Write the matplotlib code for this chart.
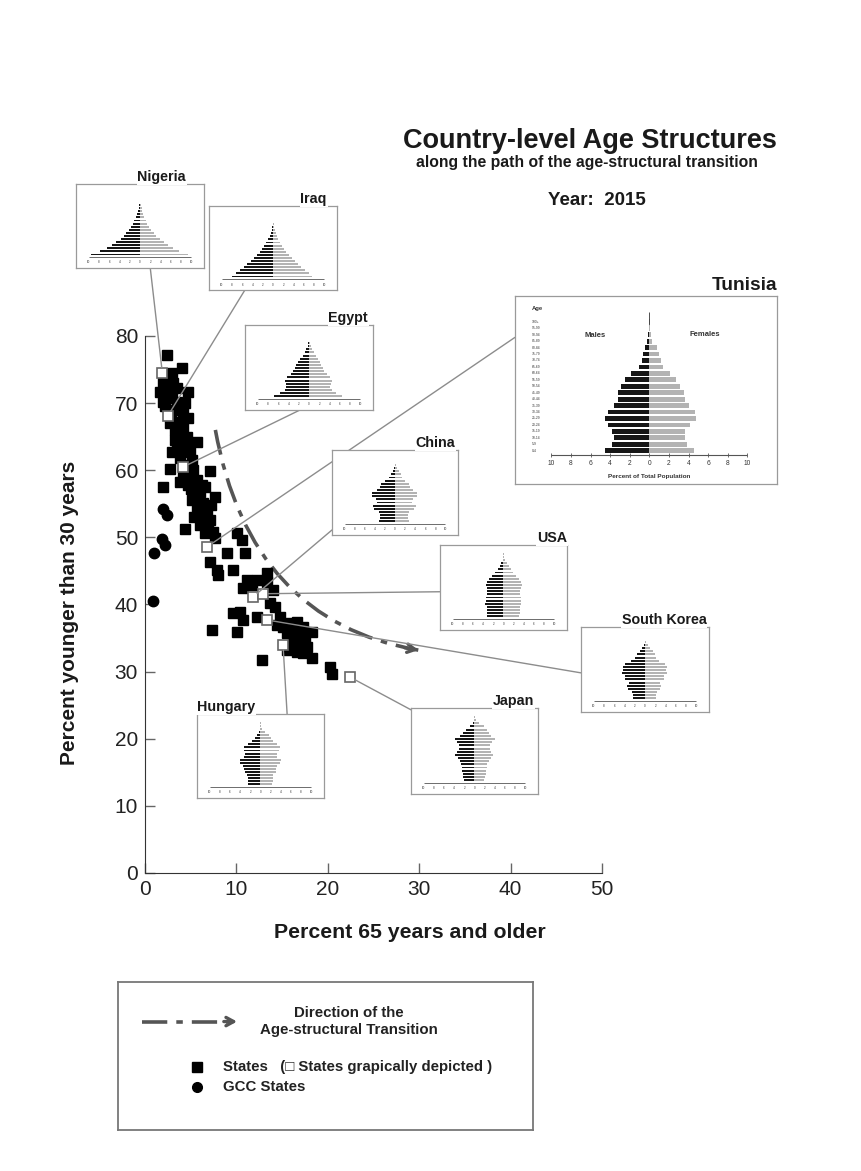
import numpy as np
import matplotlib.pyplot as plt
from matplotlib.patches import ConnectionPatch, PathPatch
from matplotlib.path import Path

plt.rcParams['font.family'] = ['Liberation Sans', 'DejaVu Sans']

# ---- scatter data: % aged 65+ (x) vs % younger than 30 (y), 2015 ----
states = [(2.4, 77.2), (4.0, 75.3), (3.0, 74.5), (2.0, 73.0), (3.1, 73.0), (1.6, 71.6),
          (2.7, 71.6), (4.7, 71.7), (2.0, 70.2), (3.5, 70.2), (4.4, 70.0), (3.1, 69.0),
          (4.2, 68.7), (4.7, 67.8), (3.5, 67.2), (2.7, 67.0), (4.2, 66.4), (3.3, 66.0),
          (3.8, 65.3), (4.6, 65.0), (5.7, 64.2), (3.0, 62.7), (4.2, 62.7), (4.9, 63.0),
          (3.8, 61.8), (5.1, 61.5), (2.7, 60.2), (7.1, 59.9), (4.2, 59.6), (4.9, 59.0),
          (5.7, 58.5), (6.2, 57.8), (3.8, 58.2), (4.7, 57.8), (2.0, 57.5), (6.6, 57.5),
          (5.3, 56.6), (7.7, 56.0), (5.8, 56.0), (5.1, 55.6), (6.3, 55.1), (5.7, 54.1),
          (6.8, 53.8), (6.2, 52.9), (7.1, 52.6), (6.0, 51.8), (6.9, 51.5), (4.4, 51.2),
          (7.4, 50.8), (6.6, 50.7), (7.7, 49.9), (7.1, 46.3), (7.9, 45.1), (8.0, 44.4),
          (9.0, 47.7), (9.6, 45.1), (10.1, 50.7), (10.6, 49.6), (10.9, 47.7), (11.2, 43.6),
          (11.7, 42.9), (12.3, 43.6), (13.3, 44.7), (10.7, 42.5), (13.3, 43.4), (14.0, 42.2),
          (13.7, 40.2), (14.2, 39.6), (9.6, 38.7), (10.4, 38.9), (10.7, 37.7), (12.3, 38.1),
          (7.3, 36.2), (10.1, 35.9), (14.8, 38.1), (14.4, 36.9), (15.1, 36.6), (15.9, 37.2),
          (16.6, 37.4), (17.3, 36.6), (18.3, 35.9), (15.5, 35.8), (16.6, 35.8), (17.5, 35.2),
          (16.2, 34.4), (17.0, 34.3), (17.7, 33.7), (15.5, 33.2), (16.6, 32.9), (17.3, 32.8),
          (18.3, 32.0), (12.8, 31.7), (20.2, 30.7), (20.5, 29.6), (3.5, 72.2), (2.5, 72.5),
          (3.8, 69.5), (2.9, 68.3), (4.0, 64.0), (4.5, 63.8), (3.5, 63.5), (5.3, 60.0),
          (5.5, 58.0), (6.5, 54.5), (5.4, 53.0), (3.0, 70.8), (2.2, 69.5), (6.0, 56.7),
          (7.2, 54.8), (4.5, 60.8), (5.0, 57.2), (3.3, 64.5)]
gcc_states = [(2.0, 54.2), (2.4, 53.3), (1.9, 49.8), (2.2, 48.8), (1.0, 47.7), (0.9, 40.5)]

shown_names = ['Nigeria', 'Iraq', 'Egypt', 'Tunisia', 'China', 'USA', 'South Korea', 'Hungary', 'Japan']
shown_x = [1.9, 2.5, 4.2, 6.8, 11.8, 12.9, 13.3, 15.1, 22.4]
shown_y = [74.5, 68.1, 60.5, 48.6, 41.1, 41.6, 37.7, 34.0, 29.2]

# direction of the age-structural transition (start, control, end)
trend_x = [7.7, 11.5, 29.9]
trend_y = [66.0, 37.5, 33.2]

# ---- population pyramids: % of total population, ages 0-4 ... 100+ ----
age_groups = ['0-4', '5-9', '10-14', '15-19', '20-24', '25-29', '30-34', '35-39', '40-44',
              '45-49', '50-54', '55-59', '60-64', '65-69', '70-74', '75-79', '80-84',
              '85-89', '90-94', '95-99', '100+']
nigeria_m = [9.5, 7.8, 6.5, 5.5, 4.6, 3.8, 3.2, 2.7, 2.2, 1.8, 1.4, 1.1, 0.8, 0.6, 0.4, 0.25, 0.15, 0.08, 0.04, 0.02, 0.01]
nigeria_f = [9.4, 7.7, 6.4, 5.4, 4.6, 3.9, 3.2, 2.7, 2.2, 1.8, 1.4, 1.1, 0.85, 0.65, 0.45, 0.3, 0.17, 0.09, 0.04, 0.02, 0.01]
iraq_m = [8.0, 7.2, 6.4, 5.6, 5.0, 4.4, 3.7, 3.1, 2.6, 2.1, 1.7, 1.3, 0.95, 0.65, 0.45, 0.28, 0.16, 0.08, 0.04, 0.02, 0.01]
iraq_f = [7.7, 7.0, 6.2, 5.4, 4.9, 4.3, 3.7, 3.1, 2.6, 2.2, 1.8, 1.4, 1.05, 0.75, 0.55, 0.35, 0.2, 0.1, 0.05, 0.02, 0.01]
egypt_m = [6.9, 5.6, 4.7, 4.4, 4.5, 4.6, 4.3, 3.6, 3.1, 2.8, 2.5, 2.1, 1.7, 1.2, 0.8, 0.5, 0.28, 0.13, 0.05, 0.02, 0.01]
egypt_f = [6.5, 5.3, 4.5, 4.2, 4.3, 4.5, 4.2, 3.5, 3.0, 2.7, 2.4, 2.1, 1.7, 1.3, 0.9, 0.6, 0.33, 0.16, 0.06, 0.02, 0.01]
tunisia_m = [4.5, 3.8, 3.6, 3.8, 4.2, 4.5, 4.2, 3.6, 3.2, 3.2, 2.9, 2.5, 1.9, 1.1, 0.8, 0.6, 0.4, 0.2, 0.1, 0.05, 0.02]
tunisia_f = [4.5, 3.8, 3.6, 3.6, 4.1, 4.8, 4.6, 4.0, 3.6, 3.5, 3.1, 2.7, 2.1, 1.4, 1.2, 1.0, 0.75, 0.3, 0.15, 0.05, 0.02]
china_m = [3.1, 3.0, 2.9, 3.2, 4.1, 4.3, 3.6, 3.7, 4.6, 4.5, 3.6, 3.0, 2.8, 1.9, 1.3, 0.9, 0.5, 0.2, 0.05, 0.01, 0.01]
china_f = [2.7, 2.6, 2.5, 2.8, 3.8, 4.1, 3.4, 3.6, 4.4, 4.4, 3.5, 3.0, 2.8, 2.0, 1.4, 1.1, 0.7, 0.35, 0.1, 0.02, 0.01]
usa_m = [3.2, 3.3, 3.3, 3.3, 3.6, 3.5, 3.4, 3.2, 3.2, 3.3, 3.5, 3.3, 2.8, 2.3, 1.6, 1.1, 0.7, 0.4, 0.15, 0.04, 0.01]
usa_f = [3.1, 3.2, 3.2, 3.2, 3.4, 3.4, 3.4, 3.2, 3.2, 3.4, 3.6, 3.5, 3.0, 2.5, 1.9, 1.4, 1.0, 0.7, 0.35, 0.1, 0.02]
korea_m = [2.3, 2.3, 2.5, 3.3, 3.5, 3.2, 3.9, 3.9, 4.4, 4.3, 4.3, 3.9, 2.7, 2.0, 1.5, 1.0, 0.5, 0.2, 0.05, 0.01, 0.01]
korea_f = [2.2, 2.2, 2.3, 3.0, 3.1, 2.9, 3.7, 3.8, 4.3, 4.2, 4.3, 3.9, 2.8, 2.2, 1.9, 1.6, 1.0, 0.5, 0.17, 0.04, 0.01]
japan_m = [2.0, 2.2, 2.3, 2.4, 2.5, 2.6, 2.9, 3.3, 3.8, 3.4, 3.1, 3.0, 3.4, 3.8, 2.8, 2.3, 1.6, 0.8, 0.25, 0.05, 0.01]
japan_f = [1.9, 2.1, 2.2, 2.3, 2.4, 2.5, 2.8, 3.2, 3.7, 3.3, 3.1, 3.1, 3.5, 4.1, 3.2, 2.9, 2.4, 1.8, 0.9, 0.3, 0.05]
hungary_m = [2.4, 2.5, 2.5, 2.6, 3.1, 3.2, 3.4, 4.0, 4.1, 3.2, 3.0, 3.2, 3.2, 2.5, 1.6, 1.1, 0.7, 0.3, 0.08, 0.02, 0.01]
hungary_f = [2.3, 2.4, 2.4, 2.5, 3.0, 3.1, 3.3, 3.9, 4.0, 3.2, 3.3, 3.7, 3.9, 3.3, 2.5, 2.1, 1.6, 0.9, 0.35, 0.08, 0.01]

pyramids = {
    'Nigeria': (nigeria_m, nigeria_f), 'Iraq': (iraq_m, iraq_f), 'Egypt': (egypt_m, egypt_f),
    'China': (china_m, china_f), 'USA': (usa_m, usa_f), 'South Korea': (korea_m, korea_f),
    'Japan': (japan_m, japan_f), 'Hungary': (hungary_m, hungary_f),
}

# inset layout: [left, bottom, width, height] (figure fraction), line anchor (axes fraction), title x / align
inset_pos = {
    'Nigeria': [0.0882, 0.7711, 0.1485, 0.0717],
    'Iraq': [0.2425, 0.7523, 0.1485, 0.0717],
    'Egypt': [0.2842, 0.6499, 0.1485, 0.0726],
    'China': [0.3852, 0.5431, 0.1462, 0.0726],
    'USA': [0.5104, 0.4620, 0.1473, 0.0726],
    'South Korea': [0.6740, 0.3920, 0.1485, 0.0726],
    'Japan': [0.4768, 0.3219, 0.1473, 0.0734],
    'Hungary': [0.2285, 0.3185, 0.1473, 0.0717],
}
anchors = {'Nigeria': (0.58, 0.0), 'Iraq': (0.28, 0.0), 'Egypt': (0.43, 0.0), 'China': (0.0, 0.06),
           'USA': (0.0, 0.45), 'South Korea': (0.0, 0.46), 'Japan': (0.0, 0.98),
           'Hungary': (0.71, 1.0), 'Tunisia': (0.0, 0.78)}
title_pos = {'Nigeria': (0.86, 'right'), 'Iraq': (0.92, 'right'), 'Egypt': (0.96, 'right'),
             'China': (0.98, 'right'), 'USA': (1.0, 'right'), 'South Korea': (0.98, 'right'),
             'Japan': (0.97, 'right'), 'Hungary': (0.0, 'left')}

MALE = '#161616'
FEMALE = '#b3b3b3'
BOX = '#9a9a9a'
LINK = '#8c8c8c'

fig = plt.figure(figsize=(8.62, 11.71), dpi=100)

# ---- main scatter ----
ax = fig.add_axes([0.1682, 0.2545, 0.5302, 0.4586])
ax.set_xlim(0, 50)
ax.set_ylim(0, 80)
ax.set_xticks(range(0, 51, 10))
ax.set_yticks(range(0, 81, 10))
for s in ['top', 'right']:
    ax.spines[s].set_visible(False)
for s in ['left', 'bottom']:
    ax.spines[s].set_color('#333333')
ax.tick_params(direction='in', length=7, width=1, color='#666666', labelsize=15, pad=5,
               labelcolor='#222222')
ax.patch.set_alpha(0)

st = np.array(states)
gc = np.array(gcc_states)
ax.plot(st[:, 0], st[:, 1], 's', color='black', ms=7, zorder=3)
ax.plot(gc[:, 0], gc[:, 1], 'o', color='black', ms=7.5, zorder=3)
ax.plot(shown_x, shown_y, 's', mfc='white', mec='#666666', mew=1.2, ms=7, zorder=4)

verts = list(zip(trend_x, trend_y))
trend = Path(verts, [Path.MOVETO, Path.CURVE3, Path.CURVE3])
ax.add_patch(PathPatch(trend, fill=False, ec='#555555', lw=2.6,
                       ls=(0, (7, 2.5, 1.8, 2.5)), zorder=2))
end = np.array(verts[2])
back = end - 0.08 * (end - np.array(verts[1]))
ax.annotate('', xy=end, xytext=back,
            arrowprops=dict(arrowstyle='->,head_length=0.55,head_width=0.3', color='#555555',
                            lw=2.4, shrinkA=0, shrinkB=0), zorder=2)

fig.text(0.081, 0.477, 'Percent younger than 30 years', rotation=90, ha='center', va='center',
         fontsize=15, fontweight='bold', color='#1a1a1a')
fig.text(0.476, 0.204, 'Percent 65 years and older', ha='center', va='center',
         fontsize=15.3, fontweight='bold', color='#1a1a1a')

fig.text(0.684, 0.880, 'Country-level Age Structures', ha='center', va='center',
         fontsize=19.5, fontweight='bold', color='#1a1a1a')
fig.text(0.681, 0.861, 'along the path of the age-structural transition', ha='center',
         va='center', fontsize=11.3, fontweight='bold', color='#1a1a1a')
fig.text(0.693, 0.829, 'Year:  2015', ha='center', va='center', fontsize=13.5,
         fontweight='bold', color='#1a1a1a')

idx = {n: i for i, n in enumerate(shown_names)}
y_age = np.arange(len(age_groups))


def frame(ia):
    ia.set_xticks([])
    ia.set_yticks([])
    for s in ia.spines.values():
        s.set_color(BOX)
        s.set_linewidth(0.9)


def link(ia, name):
    i = idx[name]
    con = ConnectionPatch(xyA=anchors[name], coordsA=ia.transAxes,
                          xyB=(shown_x[i], shown_y[i]), coordsB=ax.transData,
                          color=LINK, lw=1.0, shrinkA=0, shrinkB=4)
    con.set_zorder(1)
    fig.add_artist(con)


# ---- small pyramids ----
for name, (male, female) in pyramids.items():
    ia = fig.add_axes(inset_pos[name], zorder=5)
    ia.barh(y_age, -np.array(male), height=0.62, color=MALE)
    ia.barh(y_age, female, height=0.62, color=FEMALE)
    ia.set_xlim(-12.5, 12.5)
    ia.set_ylim(-4.4, 22.8)
    frame(ia)
    ia.hlines(-0.8, -10, 10, color='#555555', lw=0.6)
    for v in range(-10, 11, 2):
        ia.text(v, -2.6, str(abs(v)), fontsize=2.2, ha='center', va='center', color='#333333')
    tx, ha = title_pos[name]
    ia.text(tx, 1.0, name, transform=ia.transAxes, ha=ha, va='bottom', fontsize=10.3,
            fontweight='bold', color='#1a1a1a',
            bbox=dict(fc='white', ec='none', pad=0.5))
    link(ia, name)

# ---- Tunisia (large pyramid) ----
tn = fig.add_axes([0.5974, 0.5867, 0.3039, 0.1605], zorder=5)
tn.barh(y_age, -np.array(tunisia_m), height=0.74, color=MALE)
tn.barh(y_age, tunisia_f, height=0.74, color=FEMALE)
tn.set_xlim(-13.7, 13.0)
tn.set_ylim(-5.16, 24.0)
frame(tn)
tn.vlines(0, 19.5, 21.5, color='#333333', lw=0.6)
tn.hlines(-0.65, -10, 10, color='#555555', lw=0.8)
tn.plot(range(-10, 11, 2), [-0.65] * 11, '|', color='#555555', ms=2.5, mew=0.6)
for v in range(-10, 11, 2):
    tn.text(v, -1.95, str(abs(v)), fontsize=4.8, ha='center', va='center', color='#333333')
tn.text(0, -4.0, 'Percent of Total Population', fontsize=4.6, ha='center', va='center',
        fontweight='bold', color='#333333')
for i, g in enumerate(age_groups):
    tn.text(-12.0, i, g, fontsize=2.4, ha='left', va='center', color='#333333')
tn.text(-12.0, 22.0, 'Age', fontsize=4.2, ha='left', va='center', fontweight='bold',
        color='#333333')
tn.text(-5.5, 17.8, 'Males', fontsize=5.5, ha='center', va='center', fontweight='bold',
        color='#333333')
tn.text(5.7, 18.1, 'Females', fontsize=5.5, ha='center', va='center', fontweight='bold',
        color='#333333')
tn.text(1.0, 1.01, 'Tunisia', transform=tn.transAxes, ha='right', va='bottom', fontsize=13.8,
        fontweight='bold', color='#1a1a1a')
link(tn, 'Tunisia')

# ---- legend box ----
lg = fig.add_axes([0.137, 0.035, 0.481, 0.126])
lg.set_xlim(0, 1)
lg.set_ylim(0, 1)
lg.set_xticks([])
lg.set_yticks([])
for s in lg.spines.values():
    s.set_color('#777777')
    s.set_linewidth(1.3)
lg.plot([0.058, 0.262], [0.735, 0.735], color='#555555', lw=2.6, ls=(0, (7, 2.5, 1.8, 2.5)))
lg.annotate('', xy=(0.287, 0.735), xytext=(0.255, 0.735),
            arrowprops=dict(arrowstyle='->,head_length=0.55,head_width=0.3', color='#555555',
                            lw=2.4, shrinkA=0, shrinkB=0))
lg.text(0.557, 0.735, 'Direction of the\nAge-structural Transition', ha='center', va='center',
        fontsize=10.8, fontweight='bold', color='#222222', linespacing=1.2)
lg.plot([0.19], [0.429], 's', color='black', ms=6.5)
lg.plot([0.19], [0.293], 'o', color='black', ms=7)
lg.text(0.253, 0.429, 'States   (\u25a1 States grapically depicted )', ha='left', va='center',
        fontsize=10.8, fontweight='bold', color='#222222')
lg.text(0.253, 0.293, 'GCC States', ha='left', va='center', fontsize=10.8, fontweight='bold',
        color='#222222')

fig.savefig('out.png', dpi=100)
